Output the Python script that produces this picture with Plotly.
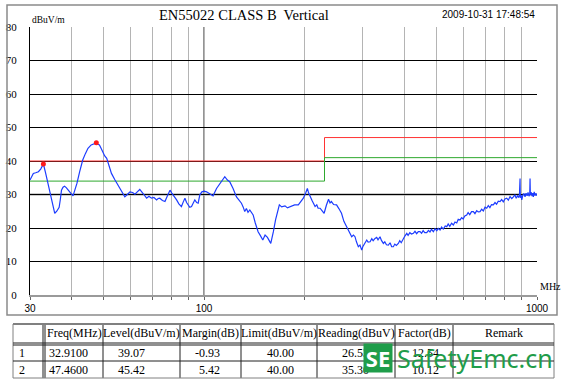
import plotly.graph_objects as go

# ---------------- data ----------------
freq = [30.0, 30.4, 30.7, 31.2, 31.8, 32.3, 32.91, 33.4, 33.9, 34.3, 34.7, 35.2, 35.6, 36.1, 36.7, 37.0,
        37.3, 37.7, 38.1, 38.6, 39.0, 39.7, 40.4, 41.0, 41.5, 42.3, 43.2, 44.0, 44.8, 45.8, 46.6, 47.46,
        48.0, 48.5, 49.0, 49.6, 50.3, 51.0, 51.8, 52.7, 53.9, 55.2, 56.5, 57.8, 58.8, 59.9, 61.0, 62.0,
        63.0, 64.1, 65.6, 67.2, 68.3, 69.5, 70.7, 72.0, 72.8, 73.6, 75.0, 76.3, 77.5, 79.0, 79.9, 80.8,
        81.8, 82.7, 84.0, 85.5, 86.6, 87.6, 88.6, 89.6, 90.6, 91.7, 92.8, 93.8, 95.0, 96.0, 97.1, 98.5,
        100.0, 101.7, 104.0, 106.4, 109.0, 111.0, 113.0, 115.4, 117.5, 119.4, 122.2, 125.1, 127.0, 129.5,
        131.0, 132.5, 134.0, 135.5, 137.2, 140.4, 142.5, 145.3, 147.5, 150.1, 152.5, 155.0, 158.6, 160.0,
        161.5, 164.0, 166.0, 168.3, 171.0, 175.0, 178.0, 183.3, 187.0, 191.9, 195.0, 198.7, 202.0, 204.3,
        206.0, 208.2, 211.0, 215.5, 218.0, 220.0, 223.1, 226.0, 229.4, 233.0, 236.5, 239.0, 241.2, 245.0,
        250.0, 254.0, 258.7, 263.0, 267.9, 272.0, 277.6, 281.0, 284.0, 287.0, 290.6, 294.0, 297.5, 300.0,
        304.4, 308.0, 311.0, 315.2, 319.0, 322.0, 326.2, 330.0, 333.0, 337.7, 341.0, 345.6, 349.0, 353.0,
        357.7, 362.0, 366.0, 370.3, 374.0, 378.0, 383.3, 387.0, 391.0, 396.9, 401.0, 406.3, 410.0, 415.0,
        420.0, 425.3, 430.0, 435.0, 440.0, 445.4, 450.0, 455.0, 460.0, 466.5, 472.0, 477.0, 482.0, 488.3,
        494.0, 500.0, 505.0, 511.4, 517.0, 523.0, 530.0, 535.7, 541.0, 547.0, 554.0, 560.7, 567.0, 574.0,
        580.0, 587.2, 594.0, 600.0, 607.0, 614.9, 621.0, 628.0, 636.0, 643.8, 651.0, 659.0, 666.0, 674.3,
        682.0, 690.0, 698.0, 706.3, 714.0, 722.0, 730.0, 739.3, 748.0, 756.0, 765.0, 774.4, 783.0, 792.0,
        801.0, 810.9, 820.0, 830.0, 840.0, 849.1, 858.0, 866.0, 874.0, 882.0, 886.0, 889.4, 891.0, 896.0,
        900.0, 906.0, 913.0, 920.7, 927.0, 934.0, 940.0, 946.0, 951.0, 953.1, 955.0, 960.0, 966.0, 971.0,
        975.0, 981.0, 987.0, 993.0, 1000.0]
level = [34.3, 35.5, 36.3, 36.5, 36.8, 37.6, 39.1, 36.5, 33.8, 31.5, 29.3, 26.5, 24.4, 25.0, 26.2, 28.5,
         31.3, 32.2, 32.5, 32.0, 31.3, 30.5, 29.6, 31.5, 33.3, 36.8, 40.3, 42.2, 43.8, 44.8, 45.1, 45.42,
         45.0, 44.8, 43.9, 42.8, 41.5, 40.8, 38.5, 36.3, 34.5, 32.8, 31.0, 29.3, 30.0, 30.8, 30.6, 30.1,
         30.8, 31.5, 30.3, 28.9, 29.5, 28.9, 29.1, 28.4, 28.8, 28.9, 28.2, 27.9, 29.5, 31.3, 30.5, 29.9,
         29.0, 28.4, 27.2, 26.4, 27.8, 28.9, 27.6, 26.9, 26.2, 26.4, 27.5, 28.4, 27.6, 27.4, 29.9, 30.8,
         31.0, 30.8, 30.2, 29.6, 31.8, 33.0, 34.2, 35.3, 34.3, 33.8, 31.8, 29.3, 28.5, 27.4,
         26.3, 24.9, 25.8, 24.7, 25.4, 23.9, 21.5, 18.9, 17.8, 16.4, 17.9, 17.2, 15.4, 16.8,
         18.9, 22.5, 25.0, 26.9, 26.3, 26.6, 26.0, 26.4, 26.9, 26.9, 27.8, 28.9, 30.5, 31.8,
         30.5, 29.3, 28.2, 26.4, 26.9, 25.9, 25.9, 25.2, 24.4, 26.8, 28.6, 27.5, 27.9, 27.0,
         26.9, 25.8, 24.4, 22.0, 20.4, 18.8, 17.4, 17.9, 17.4, 15.8, 14.4, 14.9, 13.4, 14.5,
         15.4, 16.4, 15.8, 15.9, 16.8, 16.2, 16.9, 17.2, 16.5, 17.4, 16.3, 15.4, 15.9, 15.0,
         14.9, 15.6, 14.4, 14.4, 15.2, 14.8, 15.4, 16.2, 15.6, 16.9, 17.6, 18.4, 17.8, 18.6,
         18.2, 18.4, 19.0, 18.3, 18.9, 18.9, 18.4, 19.2, 18.6, 18.6, 19.3, 18.8, 19.6, 18.9,
         19.8, 19.2, 19.9, 19.4, 20.3, 19.7, 20.6, 20.4, 21.2, 20.5, 21.4, 20.9, 21.8, 21.5,
         22.6, 22.4, 23.1, 22.7, 23.6, 23.9, 24.6, 24.0, 24.9, 24.9, 24.3, 25.2, 24.8, 24.9,
         25.6, 25.1, 26.2, 25.9, 26.7, 26.1, 27.0, 26.9, 27.6, 27.1, 28.0, 27.9, 28.5, 27.8,
         28.7, 28.9, 28.3, 29.4, 28.8, 29.3, 29.9, 28.9, 29.6, 29.1, 30.2, 34.8, 29.0, 29.8,
         28.4, 29.7, 30.3, 29.3, 30.4, 29.6, 30.6, 29.5, 30.0, 34.8, 29.8, 30.7, 29.5, 30.4,
         29.3, 30.8, 29.7, 30.3, 29.6]

limit_freq = [30, 230, 230, 1000]
limit_qp = [40, 40, 47, 47]
limit_margin = [34, 34, 41, 41]

peak_no = ["1", "2"]
peak_freq = [32.91, 47.46]
peak_level = [39.07, 45.42]

x_tickvals = [30, 40, 50, 60, 70, 80, 90, 100, 200, 300, 400, 500, 600, 700, 800, 900, 1000]
x_ticktext = ["30", "", "", "", "", "", "", "100", "", "", "", "", "", "", "", "", "1000"]
y_tickvals = [0, 10, 20, 30, 40, 50, 60, 70, 80]

table_header = ["", "Freq(MHz)", "Level(dBuV/m)", "Margin(dB)", "Limit(dBuV/m)",
                "Reading(dBuV)", "Factor(dB)", "Remark"]
col_no = ["1", "2"]
col_freq = ["32.9100", "47.4600"]
col_level = ["39.07", "45.42"]
col_margin = ["-0.93", "5.42"]
col_limit = ["40.00", "40.00"]
col_reading = ["26.53", "35.30"]
col_factor = ["12.54", "10.12"]
col_remark = ["", ""]

title_text = "EN55022 CLASS B  Vertical"
date_text = "2009-10-31 17:48:54"

# ---------------- layout helpers (pixel -> paper) ----------------
W, H = 569, 389
L, R, T, B = 30, 537, 27, 295


def px(x):
    return (x - L) / (R - L)


def py(y):
    return (B - y) / (B - T)


SERIF = "Liberation Serif, Times New Roman, serif"
SANS = "Liberation Sans, Arial, sans-serif"

fig = go.Figure()

fig.add_trace(go.Scatter(x=limit_freq, y=limit_qp, mode="lines",
                         line=dict(color="#ff3333", width=1), hoverinfo="skip"))
fig.add_trace(go.Scatter(x=limit_freq, y=limit_margin, mode="lines",
                         line=dict(color="#2ea82e", width=1), hoverinfo="skip"))
fig.add_trace(go.Scatter(x=freq, y=level, mode="lines",
                         line=dict(color="#1c3cff", width=1.2), hoverinfo="skip"))
fig.add_trace(go.Scatter(x=peak_freq, y=peak_level, mode="markers",
                         marker=dict(color="#ff1a1a", size=5), hoverinfo="skip"))

shapes = []
shapes.append(dict(type="line", xref="x", yref="y", x0=100, x1=100, y0=0, y1=80,
                   line=dict(color="#000000", width=1), layer="below"))
shapes.append(dict(type="line", xref="x", yref="y", x0=30, x1=1000, y0=30, y1=30,
                   line=dict(color="#9a9a9a", width=2), layer="below"))
shapes.append(dict(type="rect", xref="paper", yref="paper", x0=px(7), x1=px(557), y0=py(315), y1=py(5),
                   line=dict(color="#8a8a8a", width=1.5)))

# table
tx = [13, 43, 45, 103, 180, 241, 317, 395, 453, 554]
ty = [324, 343, 345, 361, 378]
for i, x in enumerate(tx):
    col = "#808080" if i in (0, len(tx) - 1) else "#202020"
    shapes.append(dict(type="line", xref="paper", yref="paper", x0=px(x), x1=px(x), y0=py(ty[0]), y1=py(ty[-1]),
                       line=dict(color=col, width=1)))
for i, y in enumerate(ty):
    col = "#808080" if i in (0, len(ty) - 1) else "#202020"
    wd = 2 if i == 0 else 1
    shapes.append(dict(type="line", xref="paper", yref="paper", x0=px(tx[0]), x1=px(tx[-1]), y0=py(y), y1=py(y),
                       line=dict(color=col, width=wd)))

ann = []
ann.append(dict(x=px(244), y=py(15), xref="paper", yref="paper", text=title_text, showarrow=False,
                font=dict(family=SERIF, size=14.5, color="#000"), xanchor="center", yanchor="middle"))
ann.append(dict(x=px(488), y=py(14.5), xref="paper", yref="paper", text=date_text, showarrow=False,
                font=dict(family=SANS, size=10, color="#000"), xanchor="center", yanchor="middle"))
ann.append(dict(x=px(30), y=py(20), xref="paper", yref="paper", text="dBuV/m", showarrow=False,
                font=dict(family=SERIF, size=9.5, color="#000"), xanchor="left", yanchor="middle"))
ann.append(dict(x=px(538), y=py(286), xref="paper", yref="paper", text="MHz", showarrow=False,
                font=dict(family=SERIF, size=10, color="#000"), xanchor="left", yanchor="middle"))
for n, f, l in zip(peak_no, peak_freq, peak_level):
    ann.append(dict(x=f, y=l, xref="x", yref="y", text=n, showarrow=False, yshift=6,
                    font=dict(family=SANS, size=6, color="#ff1a1a")))

head_cx = [28, 74, 141.5, 210.5, 279, 356, 424, 503.5]
for t, cx in zip(table_header, head_cx):
    ann.append(dict(x=px(cx), y=py(333.5), xref="paper", yref="paper", text=t, showarrow=False,
                    font=dict(family=SERIF, size=12, color="#000"), xanchor="center", yanchor="middle"))
row_y = [352.5, 369.5]
cols = [col_no, col_freq, col_level, col_margin, col_limit, col_reading, col_factor, col_remark]
col_right = [None, 90, 147, 222, 296, 371, 441, None]
for ci, (vals, rx) in enumerate(zip(cols, col_right)):
    for ri, v in enumerate(vals):
        if not v:
            continue
        if rx is None:
            ann.append(dict(x=px(head_cx[ci] - 6), y=py(row_y[ri]), xref="paper", yref="paper", text=v,
                            showarrow=False, font=dict(family=SERIF, size=12, color="#000"),
                            xanchor="center", yanchor="middle"))
        else:
            ann.append(dict(x=px(rx), y=py(row_y[ri]), xref="paper", yref="paper", text=v,
                            showarrow=False, font=dict(family=SERIF, size=12, color="#000"),
                            xanchor="right", yanchor="middle"))

# watermark
ann.append(dict(x=px(378), y=py(358), xref="paper", yref="paper", text="<b>SE</b>", showarrow=False,
                font=dict(family="Noto Sans, sans-serif", size=22, color="#ffffff"), bgcolor="#1f9d4a",
                width=26, height=26, borderpad=1, xanchor="center", yanchor="middle"))
ann.append(dict(x=px(395), y=py(358), xref="paper", yref="paper", text="SafetyEmc.cn", showarrow=False,
                font=dict(family="Noto Sans, sans-serif", size=25, color="#1f9d4a"),
                xanchor="left", yanchor="middle"))

fig.update_layout(
    width=W, height=H, autosize=False,
    margin=dict(l=L, r=W - R, t=T, b=H - B, pad=0, autoexpand=False),
    paper_bgcolor="#ffffff", plot_bgcolor="#ffffff",
    showlegend=False,
    shapes=shapes, annotations=ann,
    xaxis=dict(type="log", range=[1.4771212547, 3.0], tickvals=x_tickvals, ticktext=x_ticktext,
               automargin=False,
               showgrid=True, gridcolor="#b4b4b4", gridwidth=1, zeroline=False,
               showline=True, linecolor="#9a9a9a", linewidth=2,
               ticks="outside", ticklen=3, tickcolor="#666666", tickwidth=1,
               tickfont=dict(family=SANS, size=10, color="#000")),
    yaxis=dict(range=[0, 80], tickvals=y_tickvals, showgrid=True, gridcolor="#000000", gridwidth=1,
               automargin=False,
               zeroline=False, showline=True, linecolor="#000000", linewidth=1,
               ticks="", ticklabelstandoff=10,
               tickfont=dict(family=SERIF, size=11, color="#000")),
)

fig.write_html("out.html")
